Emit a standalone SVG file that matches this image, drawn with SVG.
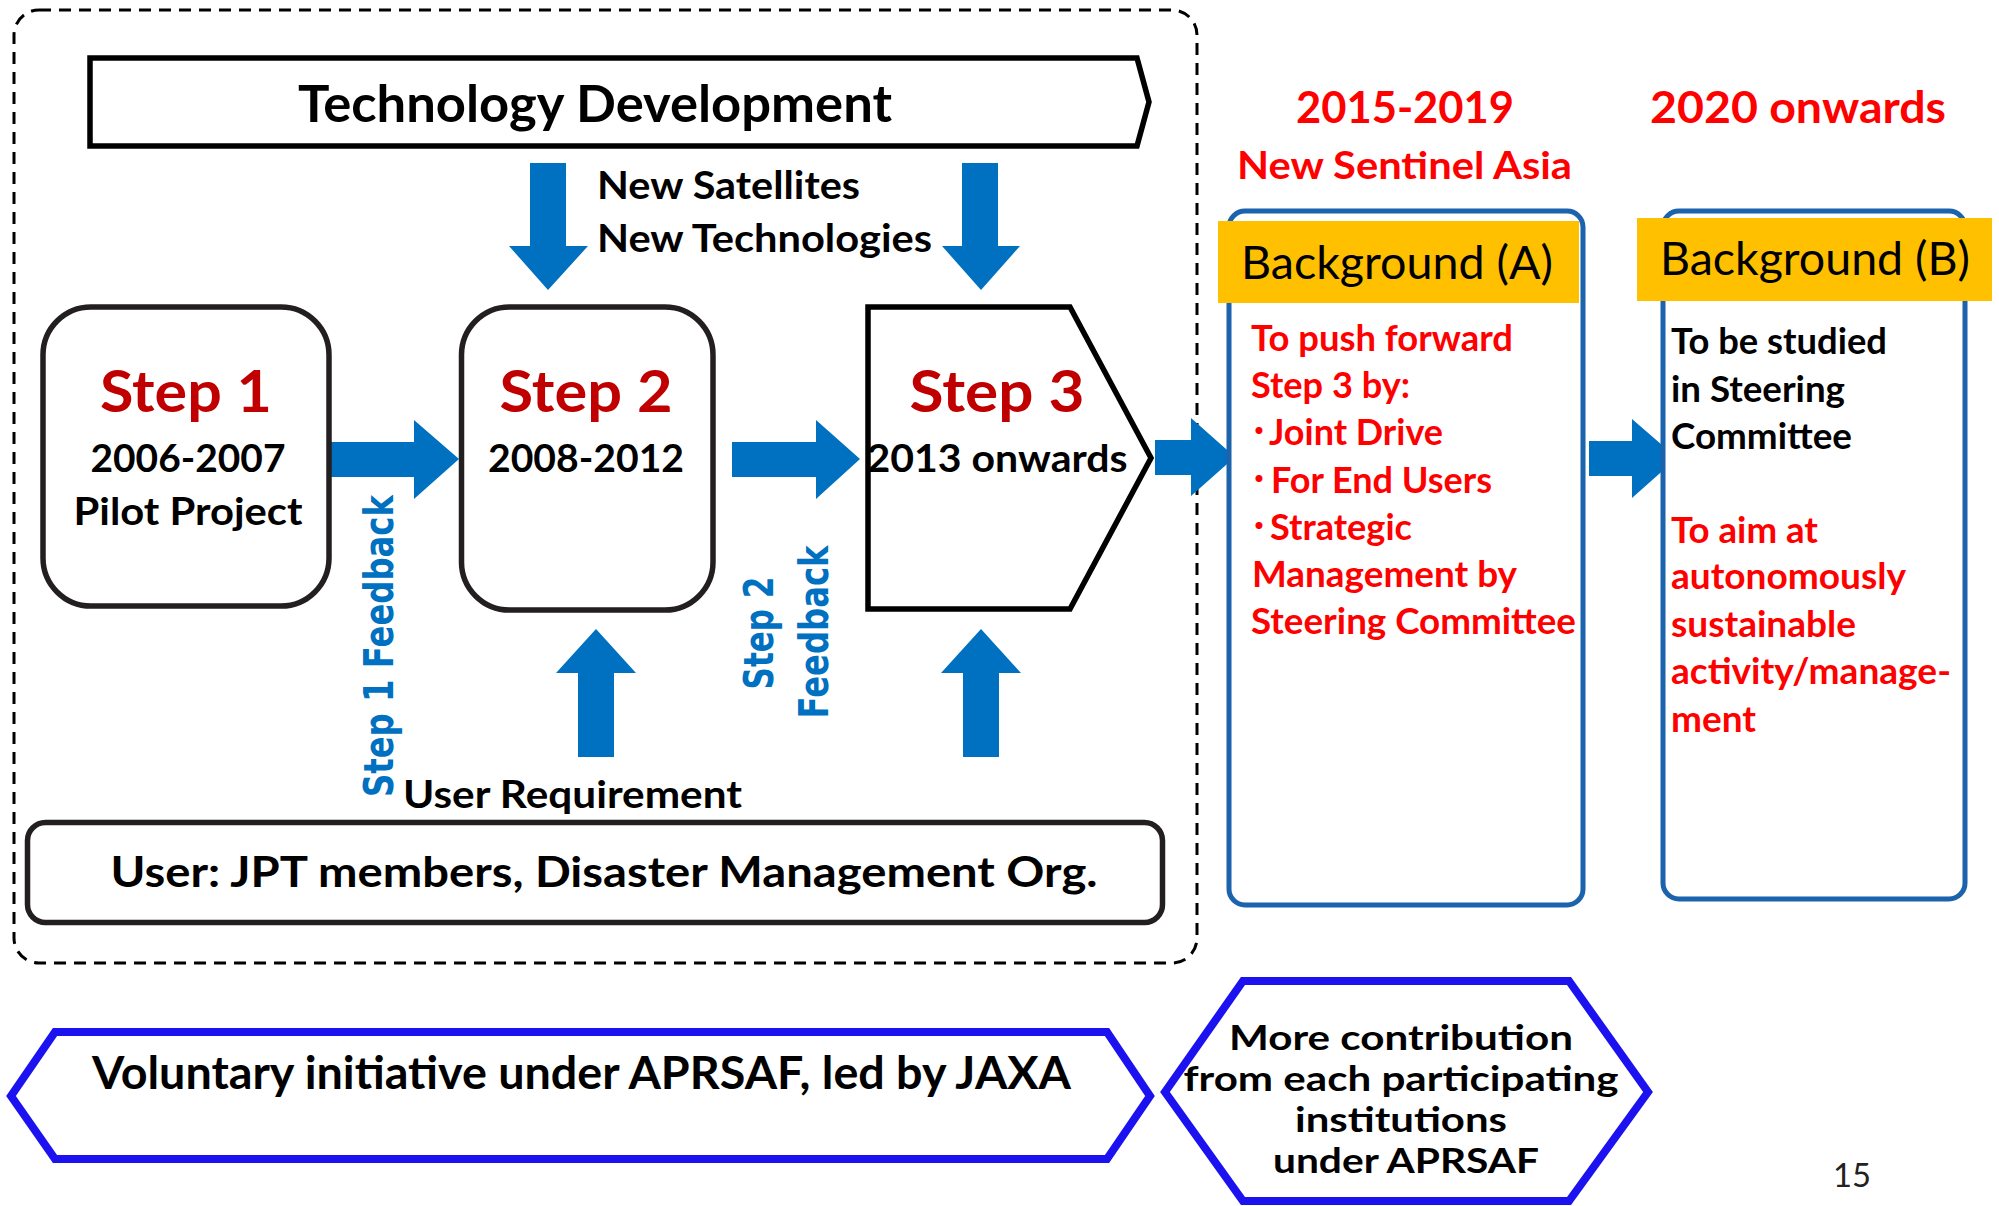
<svg xmlns="http://www.w3.org/2000/svg" width="1999" height="1206" viewBox="0 0 1999 1206">
<style>
.t{font-family:Lato,"Liberation Sans","Noto Sans CJK JP",sans-serif;font-weight:bold;}
.reg{font-weight:normal;}
.blk{fill:#000;}
.dred{fill:#C00000;}
.red{fill:#FF0000;}
.fb{font-family:"DejaVu Sans",Verdana,sans-serif;font-weight:bold;fill:#0070C0;font-size:40px;}
.arrow{fill:#0070C0;}
.node{fill:#fff;stroke:#231F20;stroke-width:5.5;}
.bbox{fill:#fff;stroke:#1B63AC;stroke-width:5;}
.hdr{fill:#FFC000;}
.hex{fill:#fff;stroke:#1C12F0;stroke-width:8;}
.bul{font-family:"Noto Sans CJK JP",sans-serif;font-size:36px;}
</style>
<rect width="1999" height="1206" fill="#fff"/>

<g id="container">
<rect x="14" y="10" width="1183" height="953" rx="25" fill="none" stroke="#000" stroke-width="3" stroke-dasharray="12 8"/>
</g>

<g id="connectors">
<polygon class="arrow" points="530,163 566,163 566,246 588,246 548,290 509,246 530,246"/>
<polygon class="arrow" points="962,163 998,163 998,246 1020,246 981,290 942,246 962,246"/>
<polygon class="arrow" points="596,629 636,673 614,673 614,757 578,757 578,673 556,673"/>
<polygon class="arrow" points="981,629 1021,673 999,673 999,757 963,757 963,673 941,673"/>
<polygon class="arrow" points="331,442 414,442 414,420 459,459 414,499 414,477 331,477"/>
<polygon class="arrow" points="732,442 816,442 816,420 860,459 816,499 816,477 732,477"/>
<polygon class="arrow" points="1155,440 1191,440 1191,418 1235,457 1191,496 1191,475 1155,475"/>
<polygon class="arrow" points="1589,441 1632,441 1632,419 1677,458 1632,498 1632,476 1589,476"/>
<text class="t" x="597" y="199" font-size="39" textLength="263" lengthAdjust="spacingAndGlyphs">New Satellites</text>
<text class="t" x="597" y="252" font-size="39" textLength="335" lengthAdjust="spacingAndGlyphs">New Technologies</text>
<text class="t" x="403" y="808" font-size="38" textLength="339" lengthAdjust="spacingAndGlyphs">User Requirement</text>
<text class="fb" transform="translate(393,797) rotate(-90)" textLength="302" lengthAdjust="spacingAndGlyphs">Step 1 Feedback</text>
<text class="fb" transform="translate(773,633) rotate(-90)" text-anchor="middle" textLength="113" lengthAdjust="spacingAndGlyphs">Step 2</text>
<text class="fb" transform="translate(828,632) rotate(-90)" text-anchor="middle" textLength="173" lengthAdjust="spacingAndGlyphs">Feedback</text>
</g>

<g id="tech-dev">
<polygon points="90,58 1137,58 1149,102 1137,146 90,146" fill="#fff" stroke="#000" stroke-width="5.5"/>
<text class="t" x="595" y="122" font-size="52" text-anchor="middle" textLength="594" lengthAdjust="spacingAndGlyphs">Technology Development</text>
</g>

<g id="step1">
<rect class="node" x="43" y="307" width="286" height="299" rx="48"/>
<text class="t dred" x="186" y="412" font-size="58" text-anchor="middle" textLength="172" lengthAdjust="spacingAndGlyphs">Step 1</text>
<text class="t" x="188" y="472" font-size="38" text-anchor="middle" textLength="195" lengthAdjust="spacingAndGlyphs">2006-2007</text>
<text class="t" x="188" y="525" font-size="38" text-anchor="middle" textLength="229" lengthAdjust="spacingAndGlyphs">Pilot Project</text>
</g>

<g id="step2">
<rect class="node" x="461.5" y="307" width="251.5" height="303" rx="48"/>
<text class="t dred" x="586" y="412" font-size="58" text-anchor="middle" textLength="173" lengthAdjust="spacingAndGlyphs">Step 2</text>
<text class="t" x="586" y="472" font-size="38" text-anchor="middle" textLength="196" lengthAdjust="spacingAndGlyphs">2008-2012</text>
</g>

<g id="step3">
<polygon points="868,307 1070,307 1151,458 1070,609 868,609" fill="#fff" stroke="#000" stroke-width="5.5"/>
<text class="t dred" x="997" y="412" font-size="58" text-anchor="middle" textLength="175" lengthAdjust="spacingAndGlyphs">Step 3</text>
<text class="t" x="997" y="472" font-size="38" text-anchor="middle" textLength="261" lengthAdjust="spacingAndGlyphs">2013 onwards</text>
</g>

<g id="user">
<rect class="node" x="27.5" y="822.5" width="1135" height="100" rx="18"/>
<text class="t" x="604" y="887" font-size="42" text-anchor="middle" textLength="987" lengthAdjust="spacingAndGlyphs">User: JPT members, Disaster Management Org.</text>
</g>

<g id="period-2015">
<text class="t red" x="1296" y="123" font-size="43" textLength="218" lengthAdjust="spacingAndGlyphs">2015-2019</text>
<text class="t red" x="1237" y="179" font-size="38.5" textLength="335" lengthAdjust="spacingAndGlyphs">New Sentinel Asia</text>
</g>

<g id="period-2020">
<text class="t red" x="1650" y="123" font-size="43" textLength="296" lengthAdjust="spacingAndGlyphs">2020 onwards</text>
</g>

<g id="background-a">
<rect class="bbox" x="1229" y="211" width="354" height="694" rx="16"/>
<rect class="hdr" x="1218" y="221" width="361" height="82"/>
<text class="t reg" x="1241" y="279" font-size="46" textLength="312" lengthAdjust="spacingAndGlyphs">Background (A)</text>
<g class="t red" font-size="36">
<text x="1251" y="351" textLength="262" lengthAdjust="spacingAndGlyphs">To push forward</text>
<text x="1251" y="398" textLength="159" lengthAdjust="spacingAndGlyphs">Step 3 by:</text>
<text y="445"><tspan class="bul" x="1250">･</tspan><tspan x="1269" textLength="174" lengthAdjust="spacingAndGlyphs">Joint Drive</tspan></text>
<text y="493"><tspan class="bul" x="1250">･</tspan><tspan x="1271" textLength="221" lengthAdjust="spacingAndGlyphs">For End Users</tspan></text>
<text y="540"><tspan class="bul" x="1250">･</tspan><tspan x="1270" textLength="142" lengthAdjust="spacingAndGlyphs">Strategic</tspan></text>
<text x="1252" y="587" textLength="265" lengthAdjust="spacingAndGlyphs">Management by</text>
<text x="1251" y="634" textLength="325" lengthAdjust="spacingAndGlyphs">Steering Committee</text>
</g>
</g>

<g id="background-b">
<rect class="bbox" x="1663" y="211" width="302" height="688" rx="16"/>
<rect class="hdr" x="1637" y="218" width="355" height="83"/>
<text class="t reg" x="1660" y="275" font-size="46" textLength="310" lengthAdjust="spacingAndGlyphs">Background (B)</text>
<g class="t" font-size="36">
<text x="1671" y="354" textLength="216" lengthAdjust="spacingAndGlyphs">To be studied</text>
<text x="1671" y="402" textLength="174" lengthAdjust="spacingAndGlyphs">in Steering</text>
<text x="1671" y="449" textLength="181" lengthAdjust="spacingAndGlyphs">Committee</text>
</g>
<g class="t red" font-size="36">
<text x="1671" y="543" textLength="147" lengthAdjust="spacingAndGlyphs">To aim at</text>
<text x="1671" y="589" textLength="235" lengthAdjust="spacingAndGlyphs">autonomously</text>
<text x="1671" y="637" textLength="185" lengthAdjust="spacingAndGlyphs">sustainable</text>
<text x="1671" y="684" textLength="280" lengthAdjust="spacingAndGlyphs">activity/manage-</text>
<text x="1671" y="732" textLength="85" lengthAdjust="spacingAndGlyphs">ment</text>
</g>
</g>

<g id="voluntary">
<polygon class="hex" points="11,1096 55,1032 1107,1032 1150,1096 1107,1159 55,1159"/>
<text class="t" x="92" y="1089" font-size="46" textLength="979" lengthAdjust="spacingAndGlyphs">Voluntary initiative under APRSAF, led by JAXA</text>
</g>

<g id="contribution">
<polygon class="hex" points="1165,1092 1243,981 1569,981 1648,1092 1569,1201 1243,1201"/>
<g class="t" font-size="34" text-anchor="middle">
<text x="1401" y="1050" textLength="344" lengthAdjust="spacingAndGlyphs">More contribution</text>
<text x="1401" y="1091" textLength="435" lengthAdjust="spacingAndGlyphs">from each participating</text>
<text x="1401" y="1132" textLength="212" lengthAdjust="spacingAndGlyphs">institutions</text>
<text x="1406" y="1173" textLength="266" lengthAdjust="spacingAndGlyphs">under APRSAF</text>
</g>
</g>

<g id="page-number">
<text class="t reg" x="1833" y="1187" font-size="33" fill="#222" textLength="38" lengthAdjust="spacingAndGlyphs">15</text>
</g>
</svg>
